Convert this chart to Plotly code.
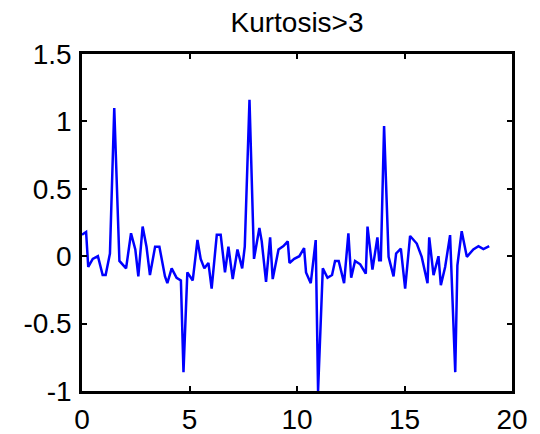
import plotly.graph_objects as go

x_vals = [0.0, 0.19, 0.29, 0.5, 0.74, 0.96, 1.1, 1.3, 1.5, 1.74, 2.05, 2.28, 2.48, 2.62,
          2.82, 3.0, 3.16, 3.4, 3.6, 3.86, 3.97, 4.17, 4.4, 4.6, 4.72, 4.9, 5.15, 5.37,
          5.52, 5.69, 5.88, 6.03, 6.27, 6.45, 6.65, 6.81, 7.01, 7.23, 7.45, 7.57, 7.79,
          8.0, 8.25, 8.36, 8.56, 8.75, 8.87, 9.14, 9.37, 9.57, 9.65, 9.87, 10.11, 10.33,
          10.42, 10.64, 10.87, 10.98, 11.2, 11.42, 11.63, 11.77, 11.94, 12.19, 12.39,
          12.52, 12.7, 12.94, 13.2, 13.28, 13.51, 13.74, 13.82, 13.9, 14.05, 14.26,
          14.49, 14.61, 14.83, 15.03, 15.26, 15.57, 15.8, 16.07, 16.15, 16.35, 16.58,
          16.69, 16.89, 17.12, 17.36, 17.46, 17.66, 17.9, 18.2, 18.44, 18.67, 18.94]
y_vals = [0.16, 0.18, -0.08, -0.02, 0.0, -0.14, -0.14, 0.02, 1.10, -0.035, -0.09, 0.17,
          0.05, -0.15, 0.22, 0.07, -0.14, 0.07, 0.07, -0.15, -0.2, -0.09, -0.16, -0.18,
          -0.86, -0.12, -0.18, 0.12, -0.02, -0.09, -0.05, -0.24, 0.16, 0.16, -0.12, 0.07,
          -0.17, 0.05, -0.09, 0.07, 1.16, -0.02, 0.21, 0.11, -0.19, 0.14, -0.17, 0.05,
          0.075, 0.11, -0.05, -0.02, 0.0, 0.06, -0.12, -0.2, 0.12, -1.0, -0.09, -0.16,
          -0.14, -0.035, -0.035, -0.2, 0.17, -0.16, -0.035, -0.06, -0.13, 0.22, -0.10,
          0.14, -0.03, -0.03, 0.965, -0.005, -0.15, 0.02, 0.057, -0.24, 0.15, 0.094,
          -0.005, -0.2, 0.14, -0.14, 0.0, -0.215, -0.08, 0.156, -0.86, -0.067, 0.186,
          -0.005, 0.05, 0.074, 0.052, 0.074]

x_ticks = [0, 5, 10, 15, 20]
y_ticks = [-1, -0.5, 0, 0.5, 1, 1.5]
y_tick_text = ["-1", "-0.5", "0", "0.5", "1", "1.5"]
title_text = "Kurtosis>3"

fig = go.Figure()
fig.add_trace(go.Scatter(x=x_vals, y=y_vals, mode="lines",
                         line=dict(color="#0000FF", width=2.5), showlegend=False))

font_family = "Liberation Sans, Arial, sans-serif"
axis_common = dict(showline=True, linecolor="black", linewidth=2.5, mirror="ticks",
                   ticks="inside", ticklen=5, tickwidth=2, tickcolor="black",
                   showgrid=False, zeroline=False, automargin=False,
                   tickfont=dict(family=font_family, size=28, color="black"))

fig.update_layout(
    width=540, height=434,
    margin=dict(l=82, r=28, t=54, b=43),
    paper_bgcolor="white", plot_bgcolor="white",
    title=dict(text=title_text, x=0.55, xanchor="center", y=1 - 22 / 434,
               yanchor="middle", yref="container",
               font=dict(family=font_family, size=28, color="black")),
    xaxis=dict(range=[0, 20], tickvals=x_ticks, ticklabelstandoff=2, **axis_common),
    yaxis=dict(range=[-1, 1.5], tickvals=y_ticks, ticktext=y_tick_text,
               ticklabelstandoff=2, **axis_common),
)

fig.write_html("out.html")
